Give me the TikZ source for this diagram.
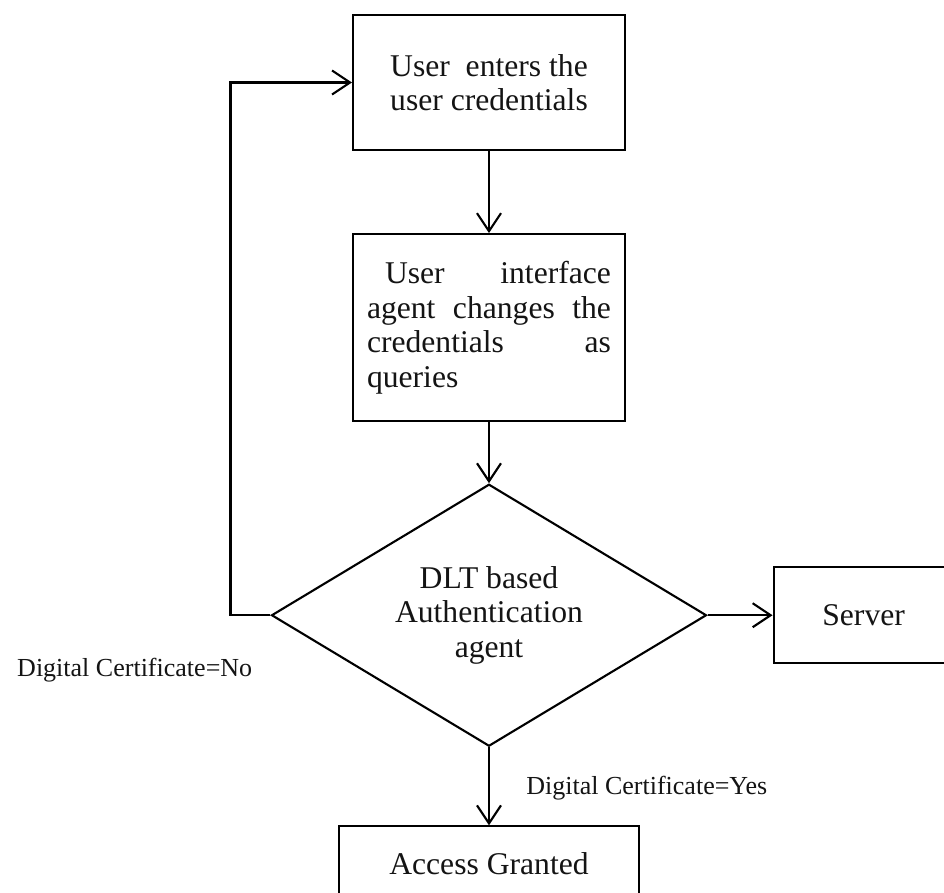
\documentclass[tikz,border=0pt]{standalone}
\usepackage{fontspec}
\setmainfont{Liberation Serif}
\usepackage{xcolor}
\usepackage{tikz}
\usetikzlibrary{shapes.geometric, arrows.meta, positioning}
\definecolor{flowline}{RGB}{0,0,0}
\definecolor{flowtext}{RGB}{20,20,20}
\tikzset{
  stepbox/.style  = {rectangle, draw=flowline, line width=1.5pt, fill=white,
                     text=flowtext, align=center, minimum width=6.8cm,
                     font=\fontsize{22.5}{24.5}\selectfont, inner sep=3pt},
  decision/.style = {diamond, draw=flowline, line width=1.5pt, fill=white,
                     text=flowtext, align=center, aspect=1.66,
                     minimum width=10.875cm, minimum height=6.55cm,
                     font=\fontsize{22.5}{24.5}\selectfont, inner sep=0pt},
  flow/.style     = {-{Straight Barb[length=4.5mm, width=6mm, line width=1.5pt]},
                     line width=1.5pt, draw=flowline},
  flowlab/.style  = {font=\fontsize{18.5}{20}\selectfont, text=flowtext, inner sep=0pt},
}

\begin{document}
\begin{tikzpicture}[node distance=2cm]
  \clip (0,0) rectangle (23.6,-22.3);
  \node[stepbox, minimum height=3.375cm] (enter) at (12.225,-2.0625)
    {User \ enters the\\user credentials};
  \node[stepbox, minimum height=4.675cm, below=2.05cm of enter, text width=6.1cm,
        align=justify] (change)
    {\hyphenpenalty=10000\relax\tolerance=10000\relax
     \hspace*{0.45cm}User interface\linebreak agent changes the\linebreak
     credentials as\linebreak queries};
  \node[decision, below=1.525cm of change] (auth)
    {DLT based\\Authentication\\agent};
  \node[stepbox, minimum width=4.5cm, minimum height=2.4cm, right=1.625cm of auth] (server)
    {Server};
  \node[stepbox, minimum width=7.5cm, minimum height=1.85cm, below=1.95cm of auth] (granted)
    {Access Granted};

  % connectors
  \draw[flow] (enter) -- (change);
  \draw[flow] (change) -- (auth);
  \draw[flow] (auth) -- (server);
  \draw[flow] (auth) -- (granted);
  \draw[flow] (auth.west) -- ++(-1cm,0) |- (enter.west);

  % labels
  \node[flowlab, below left=1.075cm and 0.45cm of auth.west] (nolab) {Digital Certificate=No};
  \node[flowlab, below right=0.725cm and 0.925cm of auth.south] (yeslab) {Digital Certificate=Yes};
\end{tikzpicture}
\end{document}
